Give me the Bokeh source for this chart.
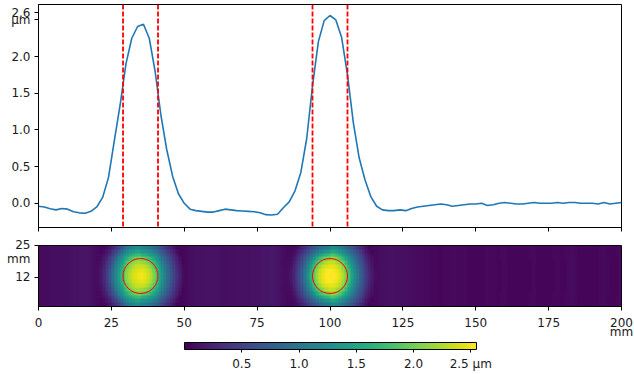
import numpy as np
from bokeh.plotting import figure
from bokeh.models import (Range1d, FixedTicker, Span, LinearColorMapper, ColorBar,
                          PrintfTickFormatter, CustomLabelingPolicy)
from bokeh.layouts import column
from bokeh.palettes import Viridis256
from bokeh.embed import file_html
from bokeh.resources import INLINE

# ---- data ----
x_mm = list(range(0, 201, 2))
height_um = [
    -0.04, -0.05, -0.075, -0.09, -0.07, -0.08, -0.115, -0.13, -0.135, -0.11,
    -0.05, 0.08, 0.35, 0.85, 1.34, 1.90, 2.25, 2.41, 2.44, 2.25,
    1.80, 1.20, 0.73, 0.37, 0.13, 0.0, -0.08, -0.10, -0.11, -0.12,
    -0.12, -0.10, -0.08, -0.09, -0.10, -0.105, -0.11, -0.115, -0.13, -0.155,
    -0.16, -0.15, -0.06, 0.02, 0.17, 0.42, 0.88, 1.60, 2.20, 2.49,
    2.56, 2.50, 2.26, 1.75, 1.10, 0.62, 0.32, 0.09, -0.04, -0.09,
    -0.10, -0.10, -0.09, -0.10, -0.07, -0.05, -0.04, -0.03, -0.02, -0.01,
    -0.02, -0.04, -0.03, -0.02, -0.01, -0.01, 0.0, -0.03, -0.02, 0.0,
    0.01, 0.0, -0.01, -0.01, 0.0, 0.01, 0.0, 0.0, 0.0, 0.01,
    0.0, 0.01, 0.01, 0.0, 0.0, 0.0, -0.01, 0.01, -0.01, 0.0,
    0.01,
]
spot_x = [35, 100]
spot_y = [12.5, 12.5]
spot_r = [6, 6]
map_width_mm = 25

x_ticks = [0, 25, 50, 75, 100, 125, 150, 175, 200]
y_ticks_top = [0.0, 0.5, 1.0, 1.5, 2.0, 2.5, 2.6]
y_ticks_map = [12, 25]
cbar_ticks = [0.5, 1.0, 1.5, 2.0, 2.5]

FONT = "DejaVu Sans"
FS = "12px"
TXT = "#1a1a1a"

# ---- map image built from the profile (spots treated as round) ----
xp = np.array(x_mm, dtype=float)
h = np.array(height_um)
peak = h.max()
blob_p = np.clip(h, 0, None) ** 0.8 * peak ** 0.2
bg_p = 0.04 + 0.7 * np.clip(-h, 0, None)
xc = np.arange(0.5, 200, 1.0)                       # cell centres, mm
yc = np.arange(16) * (map_width_mm / 16) + map_width_mm / 32
cx = np.array(spot_x, dtype=float)
nearest = cx[np.argmin(np.abs(xc[:, None] - cx[None, :]), axis=1)]
dx = xc - nearest
sgn = np.where(dx >= 0, 1.0, -1.0)
dy = 0.72 * (yc - spot_y[0])
rr = np.sqrt(dx[None, :] ** 2 + dy[:, None] ** 2)
xs = nearest[None, :] + sgn[None, :] * rr
img = np.interp(xc, xp, bg_p)[None, :] + np.interp(xs, xp, blob_p)

xr = Range1d(0, 200)


def style_axes(p):
    p.grid.visible = False
    p.outline_line_color = "black"
    p.outline_line_width = 1
    for ax in (p.xaxis[0], p.yaxis[0]):
        ax.major_tick_out = 4
        ax.major_tick_in = 0
        ax.minor_tick_line_color = None
        ax.major_tick_line_color = "black"
        ax.axis_line_color = "black"
        ax.major_label_text_font = FONT
        ax.major_label_text_font_size = FS
        ax.major_label_text_color = TXT
    p.xaxis.major_label_text_line_height = 0.7
    p.yaxis.major_label_text_line_height = 1.0
    p.yaxis.major_label_standoff = 4
    p.xaxis.major_label_standoff = 5


# ---- top: profile ----
p1 = figure(frame_width=583, frame_height=223, x_range=xr,
            y_range=Range1d(-0.33, 2.71), output_backend="svg",
            toolbar_location=None, min_border_left=38, min_border_right=13,
            min_border_top=4, min_border_bottom=10)
style_axes(p1)
p1.xaxis.ticker = FixedTicker(ticks=x_ticks)
p1.xaxis.major_label_text_font_size = "1px"
p1.xaxis.major_label_standoff = 0
p1.xaxis.major_label_policy = CustomLabelingPolicy(
    code="for (const i of indices) { indices.unset(i) } return indices")
p1.yaxis.ticker = FixedTicker(ticks=y_ticks_top)
p1.yaxis.formatter = PrintfTickFormatter(format="%.1f")
p1.yaxis.major_label_overrides = {2.5: "µm"}

for c, r in zip(spot_x, spot_r):
    for loc in (c - r, c + r):
        p1.add_layout(Span(location=loc, dimension="height", line_color="red",
                           line_width=1.8, line_dash="5 2"))
p1.line(x_mm, height_um, line_color="#1f77b4", line_width=1.6)

# ---- bottom: map ----
mapper = LinearColorMapper(palette=Viridis256, low=0.0, high=2.55)
p2 = figure(frame_width=583, frame_height=61, x_range=xr,
            y_range=Range1d(0, map_width_mm), output_backend="svg",
            toolbar_location=None, min_border_left=38, min_border_right=13,
            min_border_top=8, min_border_bottom=0)
style_axes(p2)
p2.image(image=[img], x=0, y=0, dw=200, dh=map_width_mm, color_mapper=mapper)
p2.circle(x=spot_x, y=spot_y, radius=spot_r, fill_color=None,
          line_color="red", line_width=1)
p2.xaxis.ticker = FixedTicker(ticks=x_ticks)
p2.xaxis.major_label_overrides = {200: "200\nmm"}
p2.yaxis.ticker = FixedTicker(ticks=y_ticks_map)
p2.yaxis.major_label_overrides = {25: "25\nmm"}

cb = ColorBar(color_mapper=mapper, orientation="horizontal",
              location=(146, 3), width=292, height=7, padding=0, margin=0,
              ticker=FixedTicker(ticks=cbar_ticks),
              formatter=PrintfTickFormatter(format="%.1f"),
              major_label_overrides={2.5: "2.5 µm"},
              major_label_text_font=FONT, major_label_text_font_size=FS,
              major_label_text_color=TXT, major_tick_out=3, major_tick_in=0,
              major_tick_line_color="black", bar_line_color="black",
              label_standoff=4, background_fill_color=None,
              border_line_color=None)
p2.add_layout(cb, "below")

layout = column(p1, p2, spacing=0)
open("out.html", "w").write(file_html(layout, INLINE))
